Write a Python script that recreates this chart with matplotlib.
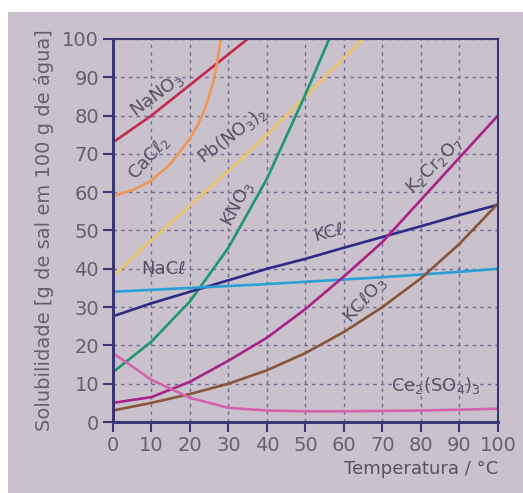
import matplotlib
matplotlib.use('Agg')
import matplotlib.pyplot as plt
from matplotlib.patches import Rectangle

# Solubility curves (g of salt per 100 g water)
temps = [0, 10, 20, 30, 40, 50, 60, 70, 80, 90, 100]

nano3_t = [0, 10, 20, 30, 40]
nano3 = [73, 80, 88, 96, 104]

cacl2_t = [0, 5, 10, 15, 20, 22, 24, 26, 27, 28, 29]
cacl2 = [59, 60.5, 63, 67.5, 74, 77.5, 82, 88.5, 93.5, 100, 108]

pbno3_t = [0, 10, 20, 30, 40, 50, 60, 70]
pbno3 = [38, 47.5, 56.5, 65.5, 75, 85, 95, 105]

kno3_t = [0, 10, 20, 30, 40, 50, 60]
kno3 = [13, 21, 31.5, 45.5, 63.5, 85.5, 109]

kcl = [27.6, 31, 34, 37, 40, 42.6, 45.5, 48.3, 51.1, 54, 56.7]
nacl = [34, 34.5, 35, 35.5, 36, 36.6, 37.2, 37.8, 38.5, 39.2, 40]
k2cr2o7 = [5, 6.5, 10.5, 16, 22, 29.5, 38, 47, 58, 69, 80]
kclo3 = [3, 5, 7.3, 10, 13.5, 18, 23.5, 30, 37.5, 46.5, 57]
ce2so43 = [18, 11, 6.3, 3.7, 3, 2.8, 2.8, 2.9, 3, 3.2, 3.5]

ticks = [0, 10, 20, 30, 40, 50, 60, 70, 80, 90, 100]

bg = '#c9c1cc'
frame = '#3a3774'
txt = '#575166'

fig = plt.figure(figsize=(5.23, 4.93), dpi=100, facecolor='white')
fig.patches.append(Rectangle((8 / 523, 0), 1, 1 - 12 / 493, transform=fig.transFigure,
                             facecolor=bg, edgecolor='none', zorder=-10))
ax = fig.add_axes([0.216, 0.144, 0.736, 0.777])
ax.set_facecolor(bg)

lw = 1.9
ax.plot(nano3_t, nano3, color='#c42a4c', lw=lw)
ax.plot(cacl2_t, cacl2, color='#ee9858', lw=lw)
ax.plot(pbno3_t, pbno3, color='#efc468', lw=lw)
ax.plot(kno3_t, kno3, color='#1f9672', lw=lw)
ax.plot(temps, kcl, color='#2e2a86', lw=lw)
ax.plot(temps, nacl, color='#2a9ed6', lw=lw)
ax.plot(temps, k2cr2o7, color='#a8228a', lw=lw)
ax.plot(temps, kclo3, color='#8a5436', lw=lw)
ax.plot(temps, ce2so43, color='#d462ac', lw=lw)

ax.set_xlim(0, 100)
ax.set_ylim(0, 100)
ax.set_xticks(ticks)
ax.set_yticks(ticks)
ax.grid(True, color='#736d94', linestyle=(0, (2.5, 3)), linewidth=1.0)
for s in ax.spines.values():
    s.set_color(frame)
    s.set_linewidth(1.5)
ax.spines['left'].set_linewidth(2.2)
ax.spines['bottom'].set_linewidth(2.2)
ax.tick_params(axis='both', colors=frame, direction='out', length=7, width=1.5,
               labelsize=14, labelcolor='#646074', pad=3)

ax.set_xlabel('Temperatura / °C', fontsize=13, color=txt, labelpad=4, loc='right')
ax.set_ylabel('Solubilidade [g de sal em 100 g de água]', fontsize=14, color='#646074', labelpad=6)

fs = 13
ax.text(11.5, 85.5, 'NaNO$_3$', rotation=36, fontsize=fs, color=txt, ha='center', va='center')
ax.text(9.5, 69, 'CaCℓ$_2$', rotation=48, fontsize=fs, color=txt, ha='center', va='center')
ax.text(31, 75, 'Pb(NO$_3$)$_2$', rotation=37, fontsize=fs, color=txt, ha='center', va='center')
ax.text(32.5, 57, 'KNO$_3$', rotation=62, fontsize=fs, color=txt, ha='center', va='center')
ax.text(56, 49.5, 'KCℓ', rotation=14, fontsize=fs, color=txt, ha='center', va='center')
ax.text(13, 40, 'NaCℓ', rotation=0, fontsize=fs, color=txt, ha='center', va='center')
ax.text(83.5, 67, 'K$_2$Cr$_2$O$_7$', rotation=45, fontsize=fs, color=txt, ha='center', va='center')
ax.text(65.5, 32, 'KCℓO$_3$', rotation=48, fontsize=fs, color=txt, ha='center', va='center')
ax.text(84, 9.5, 'Ce$_2$(SO$_4$)$_3$', rotation=0, fontsize=fs, color=txt, ha='center', va='center')

fig.savefig('out.png', dpi=100, facecolor=fig.get_facecolor())
